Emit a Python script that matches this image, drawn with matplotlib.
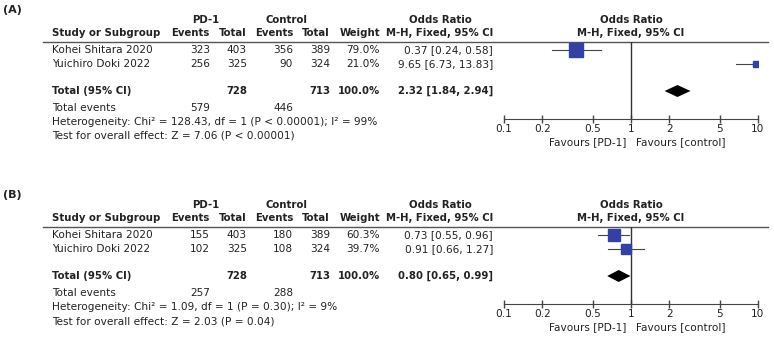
import numpy as np
import matplotlib
matplotlib.use('Agg')
import matplotlib.pyplot as plt
from matplotlib.lines import Line2D

# ---- data ----
studies = ['Kohei Shitara 2020', 'Yuichiro Doki 2022']

pd1_events_a = [323, 256]
pd1_total_a = [403, 325]
ctrl_events_a = [356, 90]
ctrl_total_a = [389, 324]
weight_a = [79.0, 21.0]
or_a = [0.37, 9.65]
lo_a = [0.24, 6.73]
hi_a = [0.58, 13.83]
pooled_a = [2.32, 1.84, 2.94]
het_a = 'Heterogeneity: Chi\u00b2 = 128.43, df = 1 (P < 0.00001); I\u00b2 = 99%'
test_a = 'Test for overall effect: Z = 7.06 (P < 0.00001)'

pd1_events_b = [155, 102]
pd1_total_b = [403, 325]
ctrl_events_b = [180, 108]
ctrl_total_b = [389, 324]
weight_b = [60.3, 39.7]
or_b = [0.73, 0.91]
lo_b = [0.55, 0.66]
hi_b = [0.96, 1.27]
pooled_b = [0.80, 0.65, 0.99]
het_b = 'Heterogeneity: Chi\u00b2 = 1.09, df = 1 (P = 0.30); I\u00b2 = 9%'
test_b = 'Test for overall effect: Z = 2.03 (P = 0.04)'

ticks = [0.1, 0.2, 0.5, 1, 2, 5, 10]
tick_labels = ['0.1', '0.2', '0.5', '1', '2', '5', '10']

W, H = 774, 338
FS = 7.6
FS_B = 7.3
TXT = '#222222'
BLUE = '#3341a6'

fig = plt.figure(figsize=(W / 100, H / 100), dpi=100)
bg = fig.add_axes([0, 0, 1, 1])
bg.set_xlim(0, W)
bg.set_ylim(H, 0)
bg.axis('off')


def t(x, y, s, ha='left', bold=False, size=None):
    if size is None:
        size = FS_B if bold else FS
    bg.text(x, y, s, ha=ha, va='center', fontsize=size, color=TXT,
            fontweight='bold' if bold else 'normal')


def draw_panel(off, label, ev1, n1, ev2, n2, wt, ors, los, his, pooled, het, test):
    # column positions (pixels)
    x_study, x_ev1, x_n1, x_ev2, x_n2, x_wt, x_or = 52, 210, 247, 293, 330, 380, 493
    y_h1, y_h2, y_line = 20 + off, 33 + off, 41.7 + off
    rows = [50 + off, 64 + off]
    y_tot = 91 + off

    t(3, 10 + off, label, bold=True, size=8)
    t(206, y_h1, 'PD-1', ha='center', bold=True)
    t(287, y_h1, 'Control', ha='center', bold=True)
    t(440, y_h1, 'Odds Ratio', ha='center', bold=True)
    t(631, y_h1, 'Odds Ratio', ha='center', bold=True)
    t(x_study, y_h2, 'Study or Subgroup', bold=True)
    t(x_ev1, y_h2, 'Events', ha='right', bold=True)
    t(x_n1, y_h2, 'Total', ha='right', bold=True)
    t(x_ev2, y_h2, 'Events', ha='right', bold=True)
    t(x_n2, y_h2, 'Total', ha='right', bold=True)
    t(x_wt, y_h2, 'Weight', ha='right', bold=True)
    t(x_or, y_h2, 'M-H, Fixed, 95% CI', ha='right', bold=True)
    t(631, y_h2, 'M-H, Fixed, 95% CI', ha='center', bold=True)
    bg.add_line(Line2D([43, 768], [y_line, y_line], color='#555555', lw=1))

    for i, name in enumerate(studies):
        y = rows[i]
        t(x_study, y, name)
        t(x_ev1, y, str(ev1[i]), ha='right')
        t(x_n1, y, str(n1[i]), ha='right')
        t(x_ev2, y, str(ev2[i]), ha='right')
        t(x_n2, y, str(n2[i]), ha='right')
        t(x_wt, y, '%.1f%%' % wt[i], ha='right')
        t(x_or, y, '%.2f [%.2f, %.2f]' % (ors[i], los[i], his[i]), ha='right')

    t(x_study, y_tot, 'Total (95% CI)', bold=True)
    t(x_n1, y_tot, str(sum(n1)), ha='right', bold=True)
    t(x_n2, y_tot, str(sum(n2)), ha='right', bold=True)
    t(x_wt, y_tot, '%.1f%%' % sum(wt), ha='right', bold=True)
    t(x_or, y_tot, '%.2f [%.2f, %.2f]' % tuple(pooled), ha='right', bold=True)
    t(x_study, 108 + off, 'Total events')
    t(x_ev1, 108 + off, str(sum(ev1)), ha='right')
    t(x_ev2, 108 + off, str(sum(ev2)), ha='right')
    t(x_study, 122 + off, het)
    t(x_study, 136 + off, test)

    # forest plot axes
    y_axis = 119 + off
    ax = fig.add_axes([504 / W, 1 - y_axis / H, 254 / W, (y_axis - y_line) / H])
    ax.set_xscale('log')
    ax.set_xlim(0.1, 10)
    ax.set_ylim(y_axis, y_line)
    ax.patch.set_alpha(0)
    for s in ['top', 'left', 'right']:
        ax.spines[s].set_visible(False)
    ax.spines['bottom'].set_color('#444444')
    ax.yaxis.set_visible(False)
    ax.xaxis.set_major_locator(matplotlib.ticker.FixedLocator(ticks))
    ax.xaxis.set_minor_locator(matplotlib.ticker.NullLocator())
    ax.set_xticklabels(tick_labels)
    ax.tick_params(axis='x', direction='inout', length=6, width=1, color='#444444',
                   labelsize=FS, labelcolor=TXT, pad=0.5)
    ax.axvline(1, color='#333333', lw=1)

    for i in range(len(studies)):
        y = rows[i]
        ax.plot([los[i], his[i]], [y, y], color='#444444', lw=0.8)
        ax.plot(ors[i], y, marker='s', color=BLUE, mec=BLUE,
                ms=9.4 * np.sqrt(wt[i] / 79.0), lw=0)

    est, lo, hi = pooled
    ax.fill([lo, est, hi, est], [y_tot, y_tot - 6, y_tot, y_tot + 6],
            color='black', lw=0)

    t(626, 142 + off, 'Favours [PD-1]', ha='right')
    t(636, 142 + off, 'Favours [control]')


draw_panel(0, '(A)', pd1_events_a, pd1_total_a, ctrl_events_a, ctrl_total_a,
           weight_a, or_a, lo_a, hi_a, pooled_a, het_a, test_a)
draw_panel(185, '(B)', pd1_events_b, pd1_total_b, ctrl_events_b, ctrl_total_b,
           weight_b, or_b, lo_b, hi_b, pooled_b, het_b, test_b)

plt.savefig('out.png', dpi=100)
plt.close()
